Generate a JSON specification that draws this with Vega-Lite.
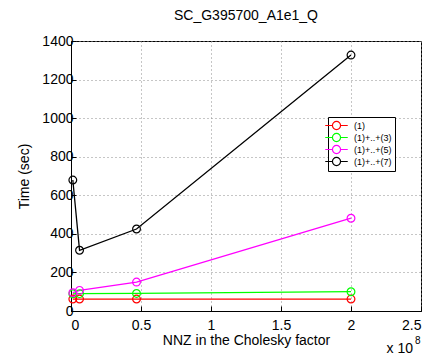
{
  "$schema": "https://vega.github.io/schema/vega-lite/v6.json",
  "width": 350,
  "height": 270,
  "autosize": {"type": "none"},
  "padding": {"left": 71, "top": 41, "right": 13, "bottom": 45},
  "background": "white",
  "title": {"text": "SC_G395700_A1e1_Q", "fontSize": 14, "font": "Liberation Sans", "fontWeight": "normal", "color": "black", "offset": 11},
  "config": {
    "view": {"stroke": "black", "strokeWidth": 1},
    "font": "Liberation Sans",
    "axis": {
      "labelFont": "Liberation Sans", "labelFontSize": 14, "labelColor": "black",
      "titleFont": "Liberation Sans", "titleFontSize": 14, "titleColor": "black", "titleFontWeight": "normal",
      "domainColor": "black", "tickColor": "black", "tickSize": -5,
      "grid": true, "gridColor": "#8c8c8c", "gridDash": [1, 3], "gridOpacity": 1, "gridWidth": 1,
      "labelOverlap": false
    }
  },
  "datasets": {
    "main": [
      {"nnz": 0.013, "time": 62, "series": "(1)"},
      {"nnz": 0.061, "time": 62, "series": "(1)"},
      {"nnz": 0.468, "time": 62, "series": "(1)"},
      {"nnz": 2.0, "time": 62, "series": "(1)"},
      {"nnz": 0.013, "time": 89, "series": "(1)+..+(3)"},
      {"nnz": 0.061, "time": 90, "series": "(1)+..+(3)"},
      {"nnz": 0.468, "time": 91, "series": "(1)+..+(3)"},
      {"nnz": 2.0, "time": 100, "series": "(1)+..+(3)"},
      {"nnz": 0.013, "time": 95, "series": "(1)+..+(5)"},
      {"nnz": 0.061, "time": 107, "series": "(1)+..+(5)"},
      {"nnz": 0.468, "time": 150, "series": "(1)+..+(5)"},
      {"nnz": 2.0, "time": 481, "series": "(1)+..+(5)"},
      {"nnz": 0.013, "time": 679, "series": "(1)+..+(7)"},
      {"nnz": 0.061, "time": 315, "series": "(1)+..+(7)"},
      {"nnz": 0.468, "time": 425, "series": "(1)+..+(7)"},
      {"nnz": 2.0, "time": 1327, "series": "(1)+..+(7)"}
    ]
  },
  "encoding": {
    "x": {"type": "quantitative", "scale": {"domain": [0, 2.5], "nice": false},
          "axis": {"values": [0, 0.5, 1, 1.5, 2, 2.5], "format": "~g", "title": "NNZ in the Cholesky factor", "labelPadding": 12, "titlePadding": 1, "grid": true}},
    "y": {"type": "quantitative", "scale": {"domain": [0, 1400], "nice": false},
          "axis": {"values": [0, 200, 400, 600, 800, 1000, 1200, 1400], "format": "d", "title": "Time (sec)", "labelPadding": 3, "titlePadding": 10, "grid": true}}
  },
  "layer": [
    {
      "data": {"name": "main"},
      "mark": {"type": "line", "strokeWidth": 1.3, "point": {"filled": false, "size": 60, "strokeWidth": 1.2}},
      "encoding": {
        "x": {"field": "nnz"},
        "y": {"field": "time"},
        "color": {"field": "series", "type": "nominal",
                  "scale": {"domain": ["(1)", "(1)+..+(3)", "(1)+..+(5)", "(1)+..+(7)"], "range": ["#ff0000", "#00ff00", "#ff00ff", "#000000"]},
                  "legend": {"title": null, "orient": "none", "legendX": 257, "legendY": 76,
                             "strokeColor": "black", "fillColor": "white", "padding": 3, "rowPadding": -1,
                             "labelFont": "Liberation Sans", "labelFontSize": 9, "labelColor": "black",
                             "symbolType": "M-2.5,0H-0.9M0.9,0H2.5M-0.9,0A0.9,0.9,0,1,0,0.9,0A0.9,0.9,0,1,0,-0.9,0",
                             "symbolSize": 81, "symbolStrokeWidth": 1.2, "symbolFillColor": "transparent", "labelOffset": 12}}
      }
    },
    {
      "data": {"values": [{"t": "x 10", "nnz": 2.5, "time": 0}]},
      "mark": {"type": "text", "align": "right", "baseline": "alphabetic", "fontSize": 14, "font": "Liberation Sans", "color": "black", "dx": -8, "dy": 42},
      "encoding": {"x": {"field": "nnz"}, "y": {"field": "time"}, "text": {"field": "t"}}
    },
    {
      "data": {"values": [{"t": "8", "nnz": 2.5, "time": 0}]},
      "mark": {"type": "text", "align": "left", "baseline": "alphabetic", "fontSize": 10, "font": "Liberation Sans", "color": "black", "dx": -6, "dy": 33},
      "encoding": {"x": {"field": "nnz"}, "y": {"field": "time"}, "text": {"field": "t"}}
    }
  ]
}
